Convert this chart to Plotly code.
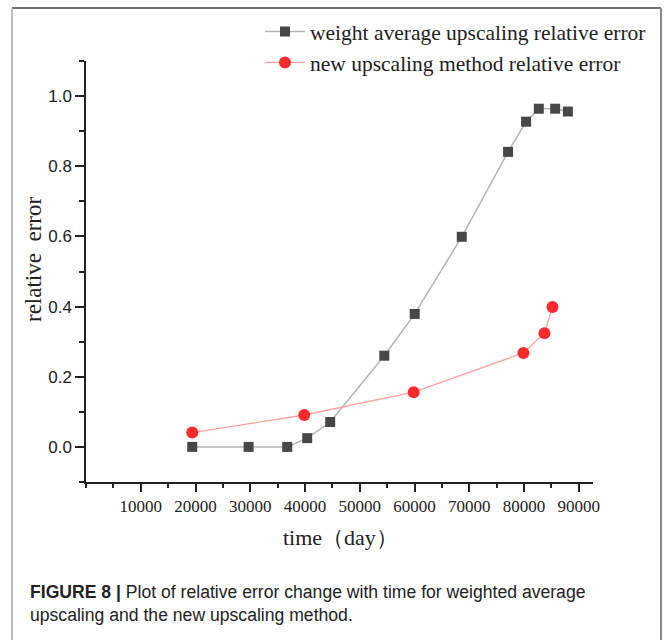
import plotly.graph_objects as go

# Weighted-average upscaling relative error over time
wa_time = [19400, 29700, 36750, 40400, 44600, 54480, 60040, 68630, 77090, 80380, 82700, 85690, 88010]
wa_err = [0.0, 0.0, 0.0, 0.025, 0.071, 0.260, 0.379, 0.599, 0.841, 0.927, 0.964, 0.964, 0.956]

# New upscaling method relative error over time
new_time = [19410, 39860, 59850, 79890, 83730, 85200]
new_err = [0.041, 0.091, 0.156, 0.268, 0.324, 0.399]

x_ticks = [10000, 20000, 30000, 40000, 50000, 60000, 70000, 80000, 90000]
y_ticks = [0.0, 0.2, 0.4, 0.6, 0.8, 1.0]
y_tick_text = ["0.0", "0.2", "0.4", "0.6", "0.8", "1.0"]

SERIF = "Liberation Serif"
SANS = "Liberation Sans"

# plot-area geometry in pixels (664 x 640 page)
L, R, T, B = 86, 593, 61, 482
W, H = 664, 640


def px(x):
    return (x - L) / (R - L)


def py(y):
    return (B - y) / (B - T)


fig = go.Figure()
fig.add_trace(go.Scatter(
    x=wa_time, y=wa_err, mode="lines+markers",
    name="weight average upscaling relative error",
    line=dict(color="#b4b4b4", width=1.5),
    marker=dict(symbol="square", size=10, color="#474747"),
))
fig.add_trace(go.Scatter(
    x=new_time, y=new_err, mode="lines+markers",
    name="new upscaling method relative error",
    line=dict(color="#ffa0a0", width=1.3),
    marker=dict(symbol="circle", size=12, color="#ff2b2b"),
))

fig.update_layout(
    width=W, height=H,
    margin=dict(l=L, r=W - R, t=T, b=H - B, autoexpand=False),
    paper_bgcolor="white", plot_bgcolor="white",
    showlegend=True,
    legend=dict(
        x=px(260), y=py(11), xanchor="left", yanchor="top",
        font=dict(family=SERIF, size=21.5, color="#222"),
        bgcolor="rgba(0,0,0,0)", itemwidth=40, tracegroupgap=0,
    ),
    xaxis=dict(
        range=[0, 92600], showgrid=False, zeroline=False,
        showline=True, linecolor="#222", linewidth=1.5,
        tickmode="array", tickvals=x_ticks,
        ticktext=[str(v) for v in x_ticks],
        ticks="outside", ticklen=8, tickwidth=1.5, tickcolor="#222",
        minor=dict(dtick=5000, tick0=0, ticks="outside", ticklen=4,
                   tickwidth=1.5, tickcolor="#222"),
        tickfont=dict(family=SERIF, size=17, color="#222"),
    ),
    yaxis=dict(
        range=[-0.1, 1.1], showgrid=False, zeroline=False,
        showline=True, linecolor="#222", linewidth=1.5,
        tickmode="array", tickvals=y_ticks, ticktext=y_tick_text,
        ticks="outside", ticklen=9, tickwidth=1.5, tickcolor="#222",
        minor=dict(dtick=0.1, tick0=0, ticks="outside", ticklen=5,
                   tickwidth=1.5, tickcolor="#222"),
        tickfont=dict(family=SANS, size=17, color="#222"),
    ),
    annotations=[
        dict(text="time（day）", x=px(340), y=py(537), xref="paper", yref="paper",
             showarrow=False, xanchor="center", yanchor="middle",
             font=dict(family=SERIF, size=22, color="#222")),
        dict(text="relative&nbsp;&nbsp;error", x=px(33), y=py(260), xref="paper", yref="paper",
             showarrow=False, xanchor="center", yanchor="middle", textangle=-90,
             font=dict(family=SERIF, size=23, color="#222")),
        dict(text="<b>FIGURE 8 |</b> Plot of relative error change with time for weighted average"
                  "<br>upscaling and the new upscaling method.",
             x=px(28), y=py(580), xref="paper", yref="paper",
             showarrow=False, xanchor="left", yanchor="top", align="left",
             font=dict(family=SANS, size=17.6, color="#222")),
    ],
    shapes=[
        dict(type="line", xref="paper", yref="paper",
             x0=px(12), x1=px(661), y0=py(8), y1=py(8),
             line=dict(color="#707070", width=2)),
        dict(type="line", xref="paper", yref="paper",
             x0=px(12), x1=px(12), y0=py(8), y1=py(700),
             line=dict(color="#bdbdbd", width=2)),
        dict(type="line", xref="paper", yref="paper",
             x0=px(661), x1=px(661), y0=py(8), y1=py(700),
             line=dict(color="#8a8a8a", width=2)),
    ],
)

fig.write_html("out.html")
